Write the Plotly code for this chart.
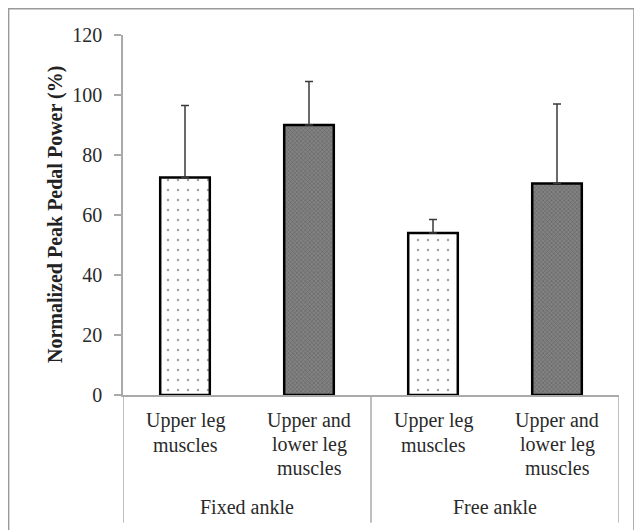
import plotly.graph_objects as go

groups = ["Fixed ankle", "Fixed ankle", "Free ankle", "Free ankle"]
conditions = ["Upper leg<br>muscles", "Upper and<br>lower leg<br>muscles",
              "Upper leg<br>muscles", "Upper and<br>lower leg<br>muscles"]
means = [72.5, 90.0, 54.0, 70.5]
sd = [24.0, 14.5, 4.5, 26.5]
yticks = [0, 20, 40, 60, 80, 100, 120]

FONT = "Liberation Serif, Times New Roman, serif"
xs = list(range(len(means)))

fig = go.Figure()
fig.add_trace(go.Bar(
    x=xs, y=means, width=0.4,
    marker=dict(
        color=["white", "#828282", "white", "#828282"],
        line=dict(color="black", width=2.5),
        pattern=dict(shape=[".", "x", ".", "x"],
                     fgcolor=["#7a7a7a", "#5a5a5a", "#7a7a7a", "#5a5a5a"],
                     size=[10, 3, 10, 3],
                     solidity=[0.05, 0.35, 0.05, 0.35]),
    ),
    error_y=dict(type="data", symmetric=False, array=sd,
                 arrayminus=[0] * len(sd), color="#3a3a3a",
                 thickness=1.5, width=4),
    showlegend=False,
))

LINE = 23.7 / 360.0
# category labels, one annotation per line
for i, c in enumerate(conditions):
    for k, line in enumerate(c.split("<br>")):
        fig.add_annotation(x=i, y=-0.0722 - k * LINE, xref="x", yref="paper",
                           text=line, showarrow=False, yanchor="middle",
                           xanchor="center",
                           font=dict(family=FONT, size=20, color="#2a2a2a"))
# group labels
group_names = []
for g in groups:
    if g not in group_names:
        group_names.append(g)
for gi, g in enumerate(group_names):
    idx = [i for i, gg in enumerate(groups) if gg == g]
    fig.add_annotation(x=sum(idx) / len(idx), y=-0.311, xref="x", yref="paper",
                       text=g, showarrow=False, yanchor="middle", xanchor="center",
                       font=dict(family=FONT, size=20, color="#2a2a2a"))
# dividers
for xd in [-0.5, 1.5, 3.5]:
    fig.add_shape(type="line", xref="x", yref="paper", x0=xd, x1=xd,
                  y0=0, y1=-0.355, line=dict(color="#aaaaaa", width=1.5))

# y title
fig.add_annotation(x=-0.137, y=0.5, xref="paper", yref="paper",
                   text="<b>Normalized Peak Pedal Power (%)</b>", textangle=-90,
                   showarrow=False, xanchor="center", yanchor="middle",
                   font=dict(family=FONT, size=20, color="#222222"))

# outer frame
fig.add_shape(type="rect", xref="paper", yref="paper",
              x0=-0.2306, x1=1.0302, y0=-0.6, y1=1.073,
              line=dict(color="#999999", width=1.5), fillcolor="rgba(0,0,0,0)",
              layer="below")

fig.update_layout(
    width=634, height=522,
    margin=dict(l=115, r=23, t=27, b=135),
    paper_bgcolor="white", plot_bgcolor="white",
    xaxis=dict(range=[-0.5, 3.5], showticklabels=False, ticks="",
               showgrid=False, zeroline=False, showline=True,
               linecolor="#aaaaaa", linewidth=1.5),
    yaxis=dict(range=[0, 120], tickvals=yticks, showgrid=False,
               zeroline=False, showline=True, linecolor="#aaaaaa",
               linewidth=1.5, ticks="outside", ticklen=7, tickcolor="#aaaaaa",
               tickwidth=1.5, ticklabelstandoff=8,
               tickfont=dict(family=FONT, size=20, color="#2a2a2a")),
)

fig.write_html("out.html")
